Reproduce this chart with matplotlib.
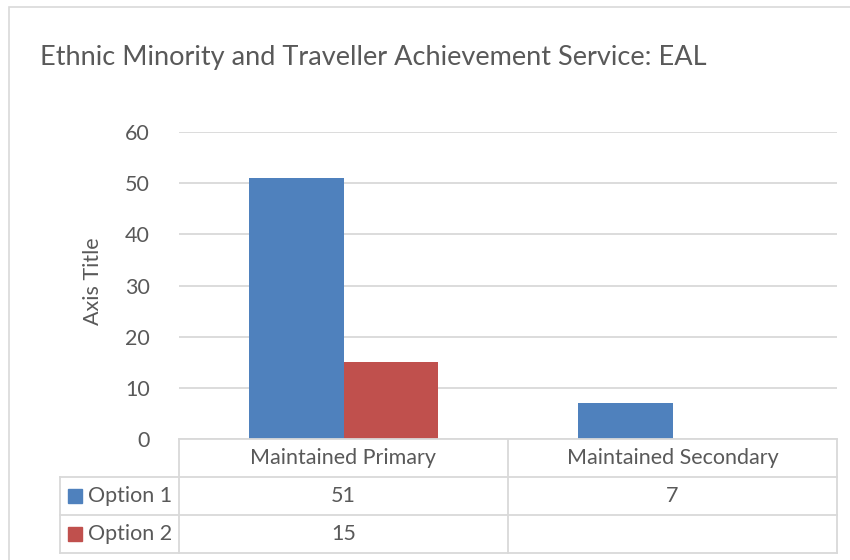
import numpy as np
import matplotlib.pyplot as plt
from matplotlib.lines import Line2D
from matplotlib.patches import Rectangle
from matplotlib.transforms import blended_transform_factory

# Chart data
categories = ["Maintained Primary", "Maintained Secondary"]
series_names = ["Option 1", "Option 2"]
option1 = [51, 7]
option2 = [15, None]
series_colors = ["#4f81bd", "#c0504d"]
title = "Ethnic Minority and Traveller Achievement Service: EAL"
y_ticks = [0, 10, 20, 30, 40, 50, 60]

TEXT = "#595959"
GRID = "#d9d9d9"
FONT = "Lato"
FS = 15.5

W, H = 850, 560
fig = plt.figure(figsize=(W / 100, H / 100), dpi=100)


def fx(px):
    return px / W


def fy(py):
    return 1 - py / H


# outer chart border (cropped on the right and bottom)
fig.patches.append(Rectangle((fx(9), fy(580)), 1.2, fy(7) - fy(580),
                             transform=fig.transFigure, fill=False,
                             edgecolor=GRID, lw=1.2))

ax = fig.add_axes([fx(179), fy(439), fx(837) - fx(179), fy(132) - fy(439)])

x = np.arange(len(categories))
width = 0.288
all_series = [option1, option2]
for i, (vals, col) in enumerate(zip(all_series, series_colors)):
    offs = (i - 0.5) * width
    xs = [x[j] + offs for j, v in enumerate(vals) if v is not None]
    hs = [v for v in vals if v is not None]
    ax.bar(xs, hs, width, color=col, zorder=3)

ax.set_xlim(-0.5, len(categories) - 0.5)
ax.set_ylim(0, 60)
ax.set_yticks(y_ticks)
ax.set_xticks([])
ax.yaxis.grid(True, color=GRID, lw=1.3)
ax.set_axisbelow(True)
for s in ax.spines.values():
    s.set_visible(False)
ax.tick_params(axis="y", length=0, pad=21, labelsize=FS, labelcolor=TEXT)
for lab in ax.get_yticklabels():
    lab.set_fontfamily(FONT)

fig.text(fx(93), fy(281), "Axis Title", rotation=90, ha="center", va="center",
         fontsize=FS, color=TEXT, family=FONT)
fig.text(fx(40), fy(58), title, ha="left", va="center",
         fontsize=19.5, color=TEXT, family=FONT)

# data table under the plot
row_lines = [439, 477, 515, 553]
tbl_left, tbl_right, col_split = 60, 837, 508


def hline(y, x0, x1):
    fig.add_artist(Line2D([fx(x0), fx(x1)], [fy(y), fy(y)], color=GRID, lw=1.3,
                          transform=fig.transFigure))


def vline(xp, y0, y1):
    fig.add_artist(Line2D([fx(xp), fx(xp)], [fy(y0), fy(y1)], color=GRID, lw=1.3,
                          transform=fig.transFigure))


hline(row_lines[0], 179, tbl_right)
for y in row_lines[1:]:
    hline(y, tbl_left, tbl_right)
vline(179, row_lines[0], row_lines[-1])
vline(col_split, row_lines[0], row_lines[-1])
vline(tbl_right, row_lines[0], row_lines[-1])
vline(tbl_left, row_lines[1], row_lines[-1])

trans = blended_transform_factory(ax.transData, fig.transFigure)
mid = [(row_lines[k] + row_lines[k + 1]) / 2 for k in range(3)]
for j, cat in enumerate(categories):
    fig.text(x[j], fy(mid[0]), cat, transform=trans, ha="center", va="center",
             fontsize=FS, color=TEXT, family=FONT)
for i, (name, vals, col) in enumerate(zip(series_names, all_series, series_colors)):
    yc = mid[i + 1]
    fig.patches.append(Rectangle((fx(68), fy(yc + 7)), fx(14), fy(yc - 7) - fy(yc + 7),
                                 transform=fig.transFigure, color=col))
    fig.text(fx(88), fy(yc), name, ha="left", va="center",
             fontsize=FS, color=TEXT, family=FONT)
    for j, v in enumerate(vals):
        if v is not None:
            fig.text(x[j], fy(yc), str(v), transform=trans, ha="center", va="center",
                     fontsize=FS, color=TEXT, family=FONT)

fig.savefig("out.png", dpi=100)
